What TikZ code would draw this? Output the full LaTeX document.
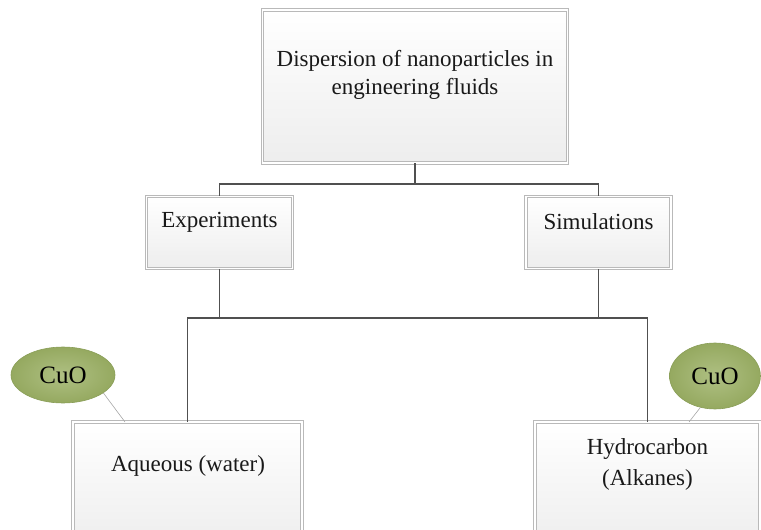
\documentclass[tikz,border=0pt]{standalone}
\usepackage{fontspec}
\setmainfont{Liberation Serif}
\usetikzlibrary{shapes.geometric}
\definecolor{cuoin}{HTML}{AFC083}
\definecolor{cuoout}{HTML}{95A960}
\definecolor{cuoedge}{HTML}{8A9E58}
\definecolor{connc}{HTML}{505050}
\begin{document}
\begin{tikzpicture}[x=1pt,y=-1pt,
  boxnode/.style={draw=gray!55, double=white, double distance=1.8pt, line width=0.8pt,
    top color=white, bottom color=gray!14, inner sep=0pt},
  txt/.style={font=\fontsize{23}{28}\selectfont, align=center, inner sep=0pt, text=black!90},
  cuo/.style={ellipse, draw=cuoedge, line width=0.6pt, inner color=cuoin, outer color=cuoout,
    font=\fontsize{25}{28}\selectfont, inner sep=0pt},
  conn/.style={draw=connc, line width=1.4pt},
  thinconn/.style={draw=gray!70, line width=0.6pt}]
\useasboundingbox (0,0) rectangle (761,530);
\clip (0,0) rectangle (761,530);

% boxes
\node[boxnode, minimum width=305pt, minimum height=153pt] (top) at (415,86.5) {};
\node[boxnode, minimum width=146pt, minimum height=72pt] (exp) at (219.5,232.5) {};
\node[boxnode, minimum width=145pt, minimum height=72pt] (sim) at (598.5,232.5) {};
\node[boxnode, minimum width=229pt, minimum height=128pt] (aq) at (187.5,486) {};
\node[boxnode, minimum width=225pt, minimum height=128pt] (hc) at (647.5,486) {};

% texts
\node[txt] (topT) at (415,75) {Dispersion of nanoparticles in\\engineering fluids};
\node[txt] (expT) at (219.5,222) {Experiments};
\node[txt] (simT) at (598.5,222) {Simulations};
\node[txt] (aqT) at (188,466) {Aqueous (water)};
\node[txt, font=\fontsize{23}{31}\selectfont] (hcT) at (647.5,464) {Hydrocarbon\\(Alkanes)};

% CuO ellipses
\node[cuo, minimum width=104pt, minimum height=56pt] (cuo1) at (63,375) {CuO};
\node[cuo, minimum width=91pt, minimum height=66pt] (cuo2) at (715,376) {CuO};
\coordinate (aqtip) at (125,422);
\coordinate (hctip) at (689,422);
\draw[thinconn] (cuo1.-24) -- (aqtip);
\draw[thinconn] (cuo2.-115) -- (hctip);

% connectors
\coordinate (bus1) at (415,184);
\coordinate (bus2) at (418,318);
\draw[conn] (top.south) -- (bus1);
\draw[conn] (exp.north) -- (exp.north |- bus1) -- (sim.north |- bus1) -- (sim.north);
\draw[conn] (exp.south) -- (exp.south |- bus2);
\draw[conn] (sim.south) -- (sim.south |- bus2);
\draw[conn] (aq.north) -- (aq.north |- bus2) -- (hc.north |- bus2) -- (hc.north);
\end{tikzpicture}
\end{document}
